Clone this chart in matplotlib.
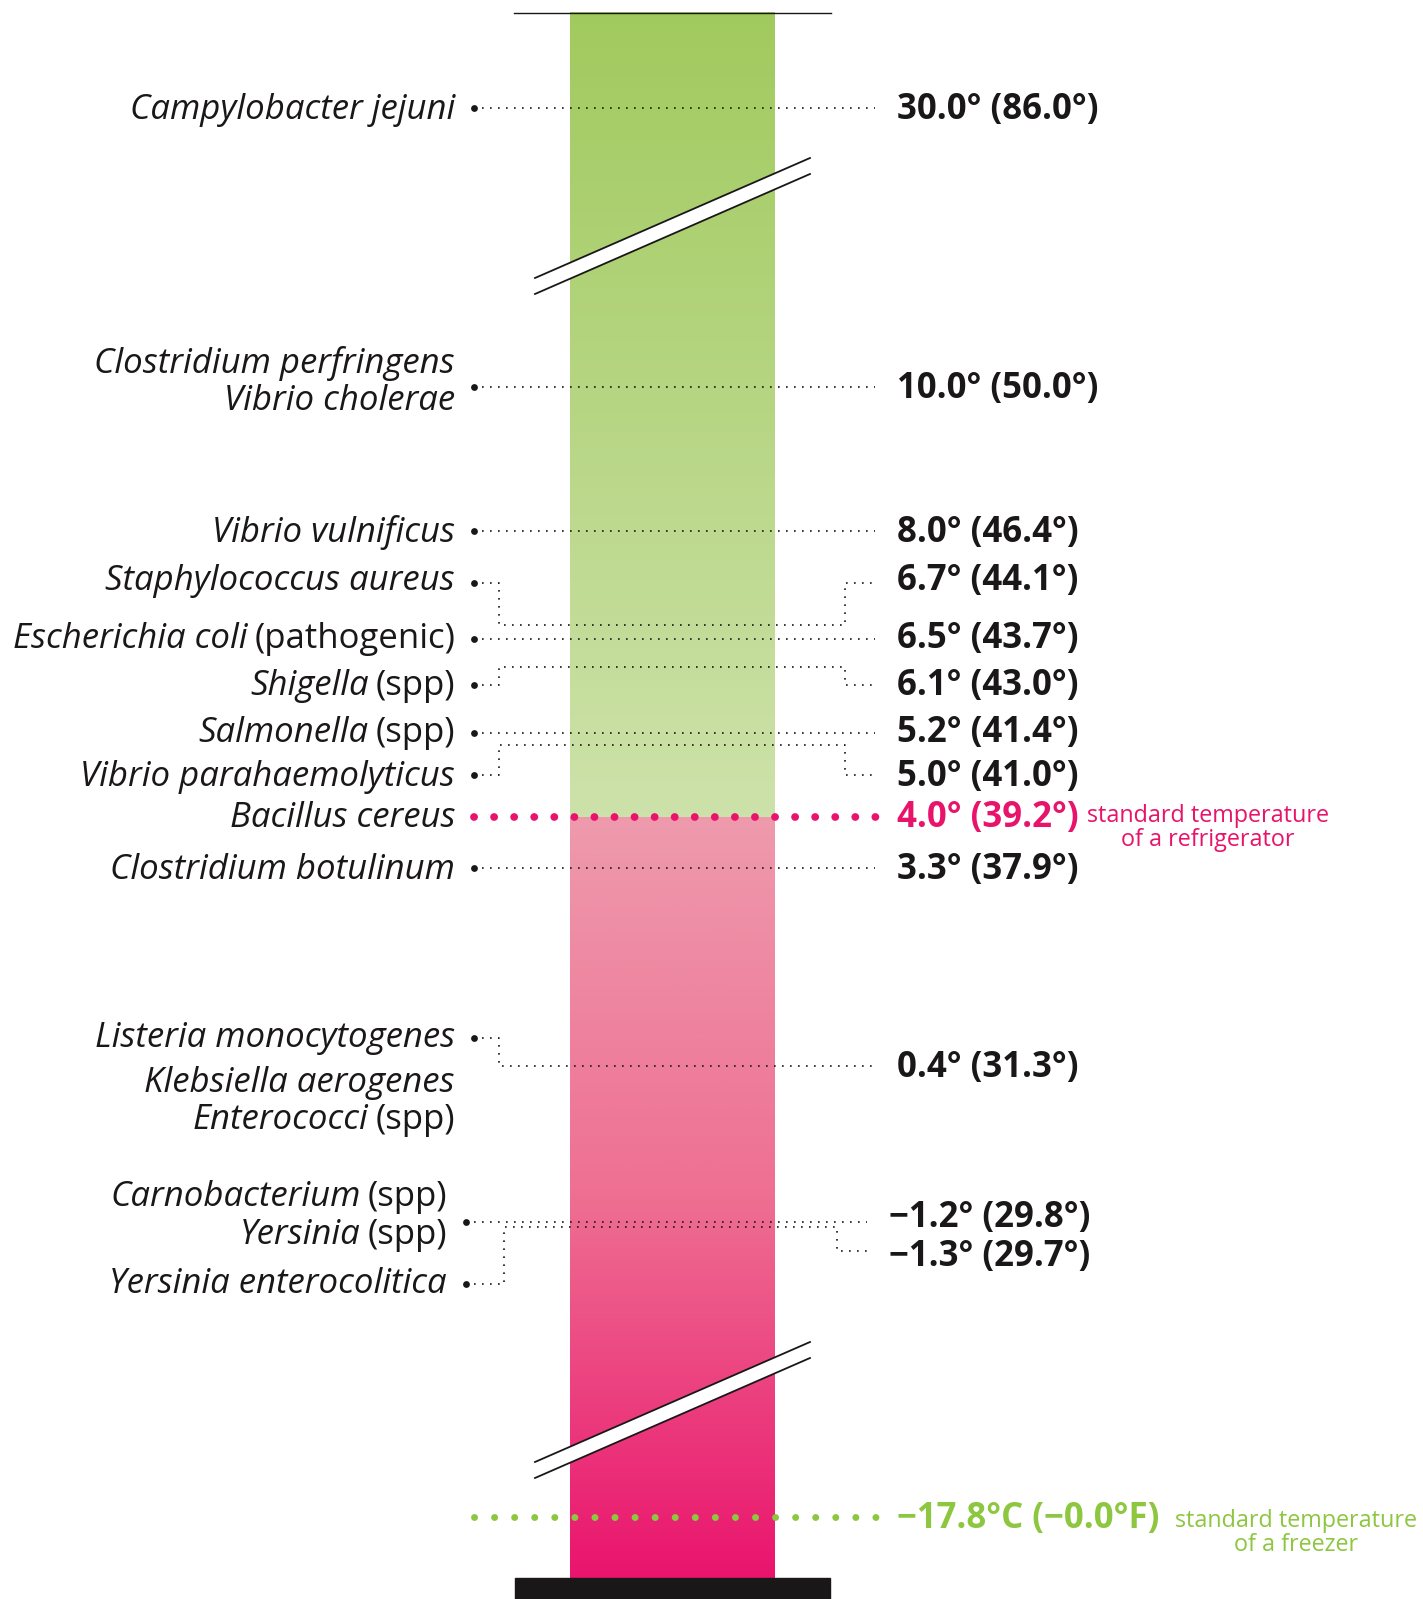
import numpy as np
import matplotlib.pyplot as plt
from matplotlib.colors import LinearSegmentedColormap
from matplotlib.patches import Rectangle, Polygon

plt.rcParams['font.family'] = ['Open Sans', 'DejaVu Sans']

# minimum growth temperature, C and (F)
temp_c = [30.0, 10.0, 8.0, 6.7, 6.5, 6.1, 5.2, 5.0, 4.0, 3.3, 0.4, -1.2, -1.3]
temp_f = [86.0, 50.0, 46.4, 44.1, 43.7, 43.0, 41.4, 41.0, 39.2, 37.9, 31.3, 29.8, 29.7]

# pathogens: (italic part, plain part) and the temperature row they belong to
names = [("Campylobacter jejuni", ""), ("Clostridium perfringens", ""),
         ("Vibrio cholerae", ""), ("Vibrio vulnificus", ""),
         ("Staphylococcus aureus", ""), ("Escherichia coli", "(pathogenic)"),
         ("Shigella", "(spp)"), ("Salmonella", "(spp)"),
         ("Vibrio parahaemolyticus", ""), ("Bacillus cereus", ""),
         ("Clostridium botulinum", ""), ("Listeria monocytogenes", ""),
         ("Klebsiella aerogenes", ""), ("Enterococci", "(spp)"),
         ("Carnobacterium", "(spp)"), ("Yersinia", "(spp)"),
         ("Yersinia enterocolitica", "")]
name_row = [0, 1, 1, 2, 3, 4, 5, 6, 7, 8, 9, 10, 10, 10, 11, 11, 12]

fridge_row = 8
freezer_c, freezer_f = -17.8, -0.0

# layout (pixels, y down)
row_y = [108, 387, 531, 583, 639, 685, 733, 775, 817, 868, 1066, 1222, 1251]
dot_y = [108, 387, 531, 583, 639, 685, 733, 775, 817, 868, 1038, 1222, 1284]
jog_y = [None, None, None, 625, None, 667, None, 745, None, None, 1066, None, 1227]
lab_y = [108, 387, 531, 579, 637, 684, 731, 775, 816, 868, 1066, 1216, 1255]
name_y = [108, 362, 399, 531, 579, 637, 684, 731, 775, 816, 868,
          1036, 1081, 1118, 1195, 1233, 1282]
freezer_y = 1517

INK = '#1a1718'
PINK = '#e8136b'
GREEN = '#8dc63f'
NAME_FS = 25
VAL_FS = 25
NOTE_FS = 16.8

W, H = 1423, 1599
fig = plt.figure(figsize=(W / 100, H / 100), dpi=100)
ax = fig.add_axes([0, 0, 1, 1])

# tube
tx0, tx1 = 570, 775
greens = LinearSegmentedColormap.from_list('g', ['#a1ca5e', '#cde2aa'])
pinks = LinearSegmentedColormap.from_list('p', ['#ee9aad', '#ee6f92', '#ea146d'])
grad = np.linspace(0, 1, 256).reshape(-1, 1)
ax.imshow(grad, cmap=greens, extent=(tx0, tx1, row_y[fridge_row], 12),
          aspect='auto', origin='upper', zorder=1)
ax.imshow(grad, cmap=pinks, extent=(tx0, tx1, 1578, row_y[fridge_row]),
          aspect='auto', origin='upper', zorder=1)
ax.set_xlim(0, W)
ax.set_ylim(H, 0)
ax.axis('off')

ax.plot([514, 831], [12.5, 12.5], color=INK, lw=1.0, zorder=3)
ax.add_patch(Rectangle((515, 1578), 315, 21, color=INK, zorder=3))

# axis breaks
for y0 in (278, 1462):
    p = [(535, y0), (810, y0 - 120), (810, y0 - 104), (535, y0 + 16)]
    ax.add_patch(Polygon(p, closed=True, facecolor='white', edgecolor='none', zorder=2))
    ax.plot([535, 810], [y0, y0 - 120], color=INK, lw=1.3, zorder=3)
    ax.plot([535, 810], [y0 + 16, y0 - 104], color=INK, lw=1.3, zorder=3)

thin = dict(color=INK, lw=1.2, ls=(0, (1, 3.8)), zorder=4)
for i in range(len(temp_c)):
    late = i >= 11
    x0 = 466 if late else 474
    x1 = 867 if late else 875
    xa = 504 if late else 499
    xb = 837 if late else 845
    label = f"{temp_c[i]:.1f}° ({temp_f[i]:.1f}°)".replace('-', '\u2212')
    if i == fridge_row:
        ax.plot([x0, x1 + 2], [row_y[i]] * 2, color=PINK, lw=5.6,
                ls=(0, (0.01, 2.57)), dash_capstyle='round', zorder=5)
        ax.text(x1 + 22, lab_y[i] + 11, label, color=PINK, fontsize=VAL_FS,
                fontweight='bold', va='baseline')
        ax.text(1208, 822, "standard temperature", color=PINK, fontsize=NOTE_FS,
                ha='center', va='baseline')
        ax.text(1208, 846, "of a refrigerator", color=PINK, fontsize=NOTE_FS,
                ha='center', va='baseline')
        continue
    if jog_y[i] is None:
        xs, ys = [x0, x1], [row_y[i], row_y[i]]
    else:
        xs = [x0, xa, xa, xb, xb, x1]
        ys = [dot_y[i], dot_y[i], jog_y[i], jog_y[i], row_y[i], row_y[i]]
    ax.plot(xs, ys, **thin)
    ax.scatter([x0], [dot_y[i]], s=24, color=INK, zorder=6, linewidths=0)
    ax.text(x1 + 22, lab_y[i] + 11, label, color=INK, fontsize=VAL_FS,
            fontweight='bold', va='baseline')

# freezer line
ax.plot([474, 877], [freezer_y] * 2, color=GREEN, lw=5.0,
        ls=(0, (0.01, 2.88)), dash_capstyle='round', zorder=5)
ax.text(897, freezer_y + 11, f"\u2212{abs(freezer_c):.1f}°C (\u2212{abs(freezer_f):.1f}°F)",
        color=GREEN, fontsize=VAL_FS, fontweight='bold', va='baseline')
ax.text(1296, 1527, "standard temperature", color=GREEN, fontsize=NOTE_FS,
        ha='center', va='baseline')
ax.text(1296, 1551, "of a freezer", color=GREEN, fontsize=NOTE_FS,
        ha='center', va='baseline')

# pathogen names, italic genus/species with plain suffix
fig.canvas.draw()
r = fig.canvas.get_renderer()
inv = ax.transData.inverted()
for (ital, plain), row, y in zip(names, name_row, name_y):
    xr = 447 if row >= 11 else 455
    if plain:
        t = ax.text(xr, y + 11, plain, color=INK, fontsize=NAME_FS, ha='right', va='baseline')
        bb = t.get_window_extent(renderer=r)
        xr = inv.transform((bb.x0, 0))[0] - 7
    ax.text(xr, y + 11, ital, color=INK, fontsize=NAME_FS, style='italic',
            ha='right', va='baseline')

fig.savefig('out.png', dpi=100)
